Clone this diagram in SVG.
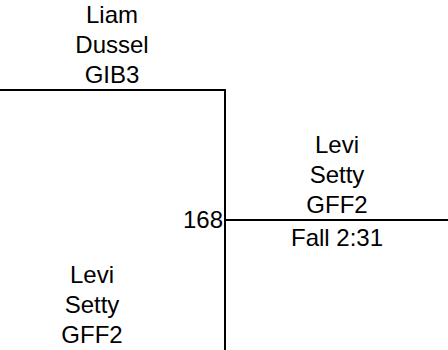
<svg xmlns="http://www.w3.org/2000/svg" width="448" height="350" viewBox="0 0 448 350">
<style>
text{font-family:"Liberation Sans",Arial,sans-serif;font-size:24px;fill:#000}
.c{text-anchor:middle}
.r{text-anchor:end}
line{stroke:#000;stroke-width:2}
</style>
<rect width="448" height="350" fill="#fff"/>
<g id="connectors">
<line x1="0" y1="90" x2="226" y2="90"/>
<line x1="225" y1="89" x2="225" y2="350"/>
<line x1="224" y1="220" x2="448" y2="220"/>
</g>
<g id="wrestler-top">
<text class="c" x="112" y="23">Liam</text>
<text class="c" x="112" y="53">Dussel</text>
<text class="c" x="112" y="83">GIB3</text>
</g>
<g id="winner">
<text class="c" x="337" y="153">Levi</text>
<text class="c" x="337" y="183">Setty</text>
<text class="c" x="337" y="213">GFF2</text>
<text class="c" x="337" y="246">Fall 2:31</text>
</g>
<g id="bout">
<text class="r" x="223" y="228">168</text>
</g>
<g id="wrestler-bottom">
<text class="c" x="92" y="283">Levi</text>
<text class="c" x="92" y="313">Setty</text>
<text class="c" x="92" y="343">GFF2</text>
</g>
</svg>
